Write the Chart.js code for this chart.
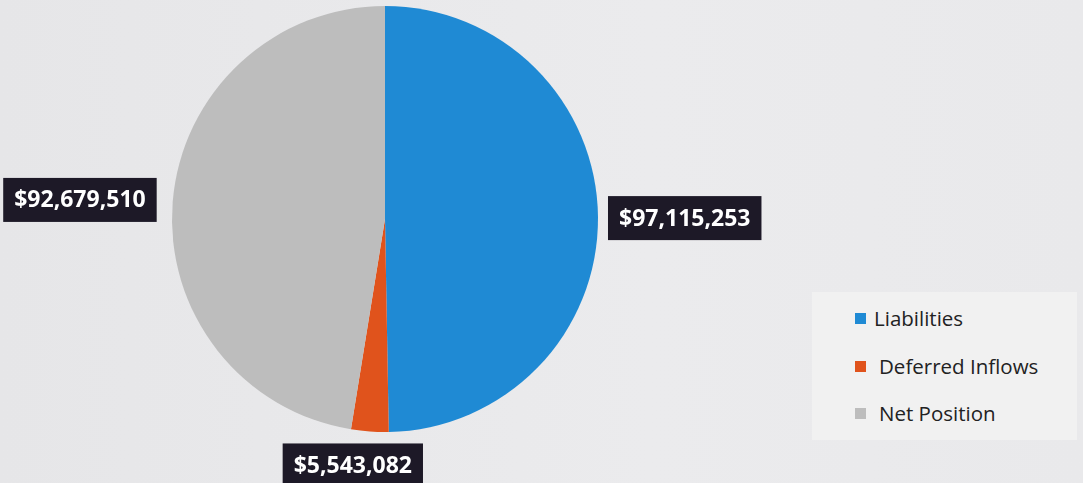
<!DOCTYPE html>
<html><head><meta charset="utf-8">
<script src="https://cdn.jsdelivr.net/npm/chart.js@4"></script>
<style>
html,body{margin:0;padding:0;}
body{width:1083px;height:483px;overflow:hidden;background:linear-gradient(90deg,#e6e6e8 0%,#ebebed 60%,#e9e9eb 100%);position:relative;font-family:"Open Sans",sans-serif;}
#wrap{position:absolute;left:0;top:0;width:1083px;height:483px;}
#legend{position:absolute;left:812px;top:292px;width:265px;height:148px;background:#f1f1f1;}
.li{position:absolute;font-size:20.5px;color:#222;white-space:nowrap;line-height:28px;}
.sw{display:inline-block;width:11px;height:11px;margin-right:8px;vertical-align:2px;}
</style></head><body>
<div id="wrap"><canvas id="c" width="1083" height="483"></canvas></div>
<div id="legend"></div>
<script>
const categories = ["Liabilities", "Deferred Inflows", "Net Position"];
const values = [97115253, 5543082, 92679510];
const valueLabels = ["$97,115,253", "$5,543,082", "$92,679,510"];
const colors = ["#1f8ad4", "#e0531c", "#bdbdbd"];

// label placement style: anchor side and fine offsets
const labelStyle = [
  {anchor: "left", dx: 10, dy: 1},
  {anchor: "top", dx: -17, dy: 12},
  {anchor: "right", dx: -16, dy: -2}
];

const labelPlugin = {
  id: "boxLabels",
  afterDatasetsDraw(chart) {
    const ctx = chart.ctx;
    const meta = chart.getDatasetMeta(0);
    ctx.save();
    ctx.font = "bold 23px 'Open Sans', sans-serif";
    ctx.textBaseline = "middle";
    ctx.textAlign = "center";
    meta.data.forEach((arc, i) => {
      const p = arc.getProps(["x","y","startAngle","endAngle","outerRadius"], true);
      const mid = (p.startAngle + p.endAngle) / 2;
      const ax = p.x + Math.cos(mid) * p.outerRadius;
      const ay = p.y + Math.sin(mid) * p.outerRadius;
      const txt = valueLabels[i];
      const tw = ctx.measureText(txt).width;
      const bw = tw + 22, bh = 44;
      const s = labelStyle[i];
      let bx, by;
      if (s.anchor === "left") { bx = ax + s.dx; by = ay - bh/2 + s.dy; }
      else if (s.anchor === "right") { bx = ax - bw + s.dx; by = ay - bh/2 + s.dy; }
      else { bx = ax - bw/2 + s.dx; by = ay + s.dy; }
      ctx.fillStyle = "#1d1927";
      ctx.fillRect(bx, by, bw, bh);
      ctx.fillStyle = "#ffffff";
      ctx.fillText(txt, bx + bw/2, by + bh/2 + 1);
    });
    ctx.restore();
  }
};

const chart = new Chart(document.getElementById("c"), {
  type: "pie",
  data: { labels: categories, datasets: [{ data: values, backgroundColor: colors, borderWidth: 0 }] },
  options: {
    responsive: false,
    animation: false,
    layout: { padding: { left: 172, right: 485, top: 6, bottom: 51 } },
    plugins: { legend: { display: false }, tooltip: { enabled: false } }
  },
  plugins: [labelPlugin]
});

// HTML legend from the chart's own labels/colors
const lg = document.getElementById("legend");
const tops = [12, 60, 107];
const lefts = [43, 43, 43];
categories.forEach((c, i) => {
  const d = document.createElement("div");
  d.className = "li";
  d.style.top = tops[i] + "px";
  d.style.left = lefts[i] + "px";
  d.innerHTML = '<span class="sw" style="background:' + colors[i] + (i>0?';margin-right:13px':'') + '"></span>' + c;
  lg.appendChild(d);
});
</script>
</body></html>
